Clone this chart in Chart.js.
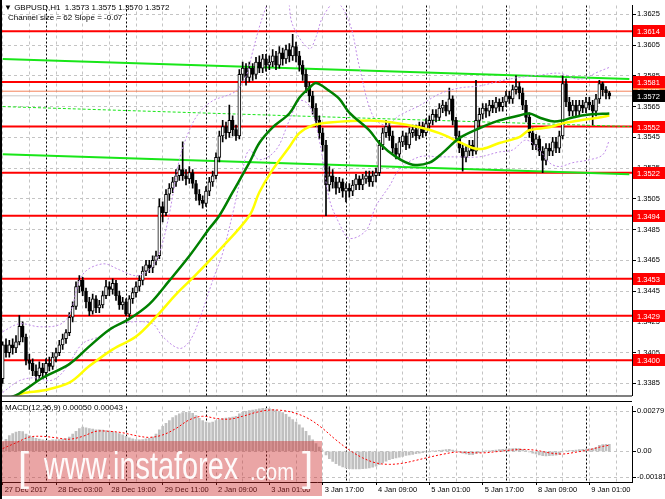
<!DOCTYPE html>
<html>
<head>
<meta charset="utf-8">
<script src="https://cdn.jsdelivr.net/npm/chart.js@4.4.1/dist/chart.umd.min.js"></script>
<style>
  body { margin: 0; width: 665px; height: 499px; overflow: hidden; position: relative; background: #fff; font-family: "Liberation Sans", Arial, sans-serif; }
  canvas { position: absolute; left: 0; }
  #main { top: 0; }
  #macd { top: 401px; }
  .txt { position: absolute; font-size: 8px; color: #000; white-space: pre; line-height: 10px; }
  #wm { position: absolute; left: 2px; top: 441px; width: 320px; height: 55px; background: rgba(205, 40, 40, 0.42); color: rgba(255,255,255,0.95); }
  #wm span { position: absolute; white-space: pre; }
</style>
</head>
<body>
<canvas id="main" width="665" height="401"></canvas>
<canvas id="macd" width="665" height="98"></canvas>
<div class="txt" style="left:4px;top:3px">▼ GBPUSD,H1  1.3573 1.3575 1.3570 1.3572</div>
<div class="txt" style="left:8px;top:13px">Channel size = 62 Slope = -0.07</div>
<div class="txt" style="left:5px;top:403px">MACD(12,26,9) 0.00050 0.00043</div>
<div id="wm">
  <span style="left:16px;top:4px;font-size:40px;">[</span>
  <span style="left:42px;top:4px;font-size:38px;transform:scaleX(0.76);transform-origin:left top;">www.instaforex</span>
  <span style="left:248px;top:17px;font-size:24px;transform:scaleX(0.85);transform-origin:left top;">.com</span>
  <span style="left:300px;top:4px;font-size:40px;">]</span>
</div>
<script>
// hourly bars, index 0 = 27 Dec 2017 11:00
const opens = [
  1.3388,1.3410,1.3405,1.3410,1.3408,1.3412,1.3422,1.3415,1.3400,1.3398,
  1.3393,1.3390,1.3395,1.3392,1.3398,1.3396,1.3402,1.3405,1.3410,1.3414,
  1.3418,1.3428,1.3435,1.3448,1.3452,1.3445,1.3438,1.3432,1.3440,1.3434,
  1.3436,1.3442,1.3448,1.3446,1.3450,1.3442,1.3436,1.3438,1.3430,1.3440,
  1.3444,1.3448,1.3452,1.3458,1.3462,1.3460,1.3465,1.3468,1.3500,1.3496,
  1.3508,1.3512,1.3516,1.3520,1.3524,1.3520,1.3518,1.3522,1.3515,1.3508,
  1.3504,1.3502,1.3510,1.3516,1.3520,1.3532,1.3546,1.3552,1.3548,1.3556,
  1.3550,1.3546,1.3586,1.3590,1.3584,1.3590,1.3586,1.3594,1.3590,1.3596,
  1.3592,1.3594,1.3598,1.3592,1.3600,1.3596,1.3602,1.3598,1.3604,1.3598,
  1.3592,1.3586,1.3578,1.3572,1.3564,1.3556,1.3548,1.3540,1.3514,1.3520,
  1.3516,1.3512,1.3516,1.3510,1.3512,1.3510,1.3514,1.3518,1.3514,1.3518,
  1.3520,1.3516,1.3520,1.3522,1.3540,1.3548,1.3552,1.3546,1.3538,1.3534,
  1.3542,1.3546,1.3540,1.3548,1.3550,1.3546,1.3552,1.3548,1.3554,1.3556,
  1.3560,1.3558,1.3564,1.3566,1.3562,1.3570,1.3556,1.3546,1.3538,1.3532,
  1.3536,1.3540,1.3536,1.3556,1.3560,1.3564,1.3562,1.3566,1.3564,1.3568,
  1.3565,1.3568,1.3572,1.3570,1.3576,1.3578,1.3574,1.3566,1.3558,1.3548,
  1.3540,1.3544,1.3536,1.3530,1.3538,1.3536,1.3542,1.3538,1.3546,1.3580,
  1.3568,1.3562,1.3566,1.3562,1.3566,1.3564,1.3568,1.3566,1.3562,1.3570,
  1.3580,1.3576,1.3574
];
const highs = [
  1.3412,1.3414,1.3413,1.3414,1.3416,1.3429,1.3425,1.3417,1.3404,1.3401,
  1.3397,1.3399,1.3398,1.3401,1.3402,1.3405,1.3408,1.3413,1.3417,1.3420,
  1.3431,1.3438,1.3451,1.3455,1.3454,1.3447,1.3441,1.3443,1.3442,1.3439,
  1.3445,1.3452,1.3451,1.3453,1.3452,1.3445,1.3441,1.3440,1.3442,1.3447,
  1.3451,1.3455,1.3461,1.3465,1.3465,1.3468,1.3471,1.3505,1.3503,1.3511,
  1.3515,1.3519,1.3524,1.3527,1.3542,1.3524,1.3526,1.3524,1.3517,1.3511,
  1.3507,1.3513,1.3519,1.3523,1.3535,1.3549,1.3556,1.3555,1.3566,1.3559,
  1.3553,1.3589,1.3594,1.3593,1.3594,1.3593,1.3597,1.3598,1.3599,1.3599,
  1.3598,1.3602,1.3601,1.3604,1.3603,1.3605,1.3606,1.3612,1.3607,1.3601,
  1.3595,1.3589,1.3581,1.3575,1.3567,1.3559,1.3551,1.3543,1.3526,1.3524,
  1.3519,1.3519,1.3518,1.3515,1.3515,1.3517,1.3521,1.3520,1.3521,1.3523,
  1.3523,1.3523,1.3525,1.3543,1.3551,1.3556,1.3555,1.3549,1.3541,1.3545,
  1.3549,1.3548,1.3551,1.3553,1.3553,1.3555,1.3555,1.3557,1.3559,1.3563,
  1.3563,1.3567,1.3569,1.3568,1.3577,1.3572,1.3558,1.3549,1.3541,1.3539,
  1.3543,1.3543,1.3582,1.3564,1.3567,1.3567,1.3569,1.3569,1.3571,1.3570,
  1.3571,1.3575,1.3575,1.3579,1.3585,1.3581,1.3577,1.3569,1.3561,1.3551,
  1.3547,1.3546,1.3539,1.3541,1.3541,1.3545,1.3545,1.3549,1.3585,1.3583,
  1.3571,1.3569,1.3569,1.3569,1.3569,1.3571,1.3571,1.3569,1.3573,1.3582,
  1.3581,1.3578,1.3575
];
const lows = [
  1.3385,1.3402,1.3402,1.3404,1.3405,1.3410,1.3412,1.3397,1.3394,1.3390,
  1.3386,1.3388,1.3388,1.3389,1.3393,1.3394,1.3399,1.3403,1.3407,1.3411,
  1.3416,1.3425,1.3433,1.3444,1.3442,1.3434,1.3429,1.3430,1.3431,1.3431,
  1.3434,1.3440,1.3442,1.3443,1.3439,1.3433,1.3433,1.3429,1.3428,1.3437,
  1.3441,1.3445,1.3449,1.3455,1.3457,1.3457,1.3462,1.3466,1.3490,1.3494,
  1.3504,1.3509,1.3513,1.3517,1.3517,1.3514,1.3515,1.3512,1.3504,1.3501,
  1.3499,1.3500,1.3507,1.3513,1.3518,1.3529,1.3542,1.3544,1.3545,1.3546,
  1.3543,1.3544,1.3582,1.3579,1.3581,1.3582,1.3583,1.3587,1.3587,1.3588,
  1.3589,1.3591,1.3589,1.3590,1.3592,1.3593,1.3594,1.3595,1.3594,1.3588,
  1.3582,1.3574,1.3568,1.3560,1.3552,1.3544,1.3536,1.3494,1.3510,1.3512,
  1.3508,1.3509,1.3506,1.3503,1.3506,1.3507,1.3511,1.3511,1.3511,1.3515,
  1.3513,1.3513,1.3516,1.3520,1.3537,1.3545,1.3543,1.3535,1.3531,1.3532,
  1.3539,1.3537,1.3538,1.3545,1.3543,1.3544,1.3545,1.3546,1.3551,1.3553,
  1.3555,1.3556,1.3561,1.3559,1.3560,1.3553,1.3542,1.3535,1.3523,1.3529,
  1.3533,1.3533,1.3534,1.3552,1.3557,1.3558,1.3559,1.3561,1.3561,1.3562,
  1.3562,1.3565,1.3567,1.3567,1.3573,1.3570,1.3563,1.3555,1.3545,1.3537,
  1.3537,1.3533,1.3522,1.3527,1.3533,1.3533,1.3535,1.3535,1.3544,1.3565,
  1.3559,1.3559,1.3559,1.3559,1.3561,1.3561,1.3563,1.3553,1.3559,1.3567,
  1.3572,1.3570,1.3570
];
const closes = [
  1.3410,1.3405,1.3410,1.3408,1.3412,1.3422,1.3415,1.3400,1.3398,1.3393,
  1.3390,1.3395,1.3392,1.3398,1.3396,1.3402,1.3405,1.3410,1.3414,1.3418,
  1.3428,1.3435,1.3448,1.3452,1.3445,1.3438,1.3432,1.3440,1.3434,1.3436,
  1.3442,1.3448,1.3446,1.3450,1.3442,1.3436,1.3438,1.3430,1.3440,1.3444,
  1.3448,1.3452,1.3458,1.3462,1.3460,1.3465,1.3468,1.3500,1.3496,1.3508,
  1.3512,1.3516,1.3520,1.3524,1.3520,1.3518,1.3522,1.3515,1.3508,1.3504,
  1.3502,1.3510,1.3516,1.3520,1.3532,1.3546,1.3552,1.3548,1.3556,1.3550,
  1.3546,1.3586,1.3590,1.3584,1.3590,1.3586,1.3594,1.3590,1.3596,1.3592,
  1.3594,1.3598,1.3592,1.3600,1.3596,1.3602,1.3598,1.3604,1.3598,1.3592,
  1.3586,1.3578,1.3572,1.3564,1.3556,1.3548,1.3540,1.3514,1.3520,1.3516,
  1.3512,1.3516,1.3510,1.3512,1.3510,1.3514,1.3518,1.3514,1.3518,1.3520,
  1.3516,1.3520,1.3522,1.3540,1.3548,1.3552,1.3546,1.3538,1.3534,1.3542,
  1.3546,1.3540,1.3548,1.3550,1.3546,1.3552,1.3548,1.3554,1.3556,1.3560,
  1.3558,1.3564,1.3566,1.3562,1.3570,1.3556,1.3546,1.3538,1.3532,1.3536,
  1.3540,1.3536,1.3556,1.3560,1.3564,1.3562,1.3566,1.3564,1.3568,1.3565,
  1.3568,1.3572,1.3570,1.3576,1.3578,1.3574,1.3566,1.3558,1.3548,1.3540,
  1.3544,1.3536,1.3530,1.3538,1.3536,1.3542,1.3538,1.3546,1.3580,1.3568,
  1.3562,1.3566,1.3562,1.3566,1.3564,1.3568,1.3566,1.3562,1.3570,1.3580,
  1.3576,1.3574,1.3572
];

// moving averages and bands: [bar, price]
const greenMA = [[0,1.3374],[5,1.33784],[12,1.33886],[20,1.33975],[26,1.3409],[32,1.34199],[38,1.34269],[44,1.34365],[50,1.34518],[56,1.34678],[62,1.34857],[65,1.3494],[69,1.35093],[74,1.35285],[77,1.35413],[81,1.35515],[86,1.35605],[89,1.35707],[92,1.35771],[94,1.35803],[98,1.35752],[101,1.357],[104,1.35611],[110,1.35496],[113,1.35413],[118,1.35323],[123,1.35272],[128,1.35285],[132,1.35349],[137,1.35445],[143,1.35509],[149,1.3556],[155,1.35592],[158,1.35605],[161,1.35579],[165,1.35554],[168,1.3556],[171,1.35579],[176,1.35598],[182,1.35605]];
const yellowMA = [[0,1.3372],[6,1.33785],[12,1.33803],[20,1.33854],[26,1.33962],[33,1.34071],[40,1.34154],[46,1.34282],[52,1.34429],[58,1.34557],[65,1.34716],[74,1.3494],[77,1.35093],[81,1.3524],[86,1.35387],[89,1.35477],[93,1.35528],[98,1.35547],[110,1.3556],[117,1.35547],[125,1.35515],[131,1.35477],[137,1.35419],[141,1.35381],[144,1.35375],[149,1.35413],[155,1.35451],[158,1.35496],[164,1.35515],[168,1.35541],[173,1.3556],[179,1.35579],[182,1.35592]];
const bandUpper = [[0,1.34186],[5,1.34237],[11,1.34218],[17,1.34231],[20,1.34295],[24,1.34557],[30,1.34627],[35,1.34589],[40,1.3455],[44,1.34589],[47,1.34697],[50,1.34953],[53,1.35304],[56,1.35496],[59,1.35611],[63,1.35688],[67,1.3572],[70,1.35752],[73,1.35847],[75,1.36007],[77,1.36167],[79,1.36295],[81,1.3639],[85,1.3639],[87,1.3618],[92,1.36026],[94,1.36103],[96,1.36231],[100,1.3633],[104,1.36199],[107,1.35911],[111,1.35592],[115,1.35528],[119,1.35592],[125,1.35656],[131,1.35732],[137,1.35771],[143,1.35784],[149,1.35815],[155,1.3584],[161,1.35854],[167,1.35867],[173,1.35828],[179,1.35879],[182,1.35905]];
const bandLower = [[0,1.3379],[5,1.33867],[10,1.33886],[14,1.33867],[17,1.33899],[20,1.33982],[24,1.34109],[29,1.34154],[35,1.34231],[39,1.3425],[45,1.34237],[48,1.34154],[53,1.34077],[56,1.34122],[59,1.34263],[63,1.34518],[66,1.34697],[69,1.34953],[72,1.3524],[74,1.35368],[77,1.35304],[82,1.35368],[86,1.3556],[89,1.35688],[92,1.35656],[95,1.35432],[98,1.35049],[101,1.34889],[104,1.34793],[109,1.34844],[112,1.35004],[116,1.35132],[119,1.3524],[125,1.35323],[131,1.35323],[137,1.35323],[143,1.35323],[149,1.35355],[153,1.35368],[157,1.35432],[161,1.35368],[164,1.35285],[167,1.3526],[171,1.35285],[176,1.35304],[180,1.35336],[182,1.35432]];

// regression channel: [start bar, price], [end bar, price]
const channelUpper = [[0,1.3596],[188,1.3583]];
const channelMiddle = [[0,1.3565],[188,1.3552]];
const channelLower = [[0,1.3534],[188,1.3521]];

const redLevels = [1.3614, 1.3581, 1.3552, 1.3522, 1.3494, 1.3453, 1.3429, 1.3400];
const orangeLevel = 1.3575;
const bidLevel = 1.3572;

const priceTicks = [1.3625, 1.3605, 1.3585, 1.3565, 1.3545, 1.3525, 1.3505, 1.3485, 1.3465, 1.3445, 1.3425, 1.3405, 1.3385];
const timeLabelBars = [0, 16, 32, 48, 64, 80, 96, 112, 128, 144, 160, 176];
const timeLabels = ["27 Dec 2017", "28 Dec 03:00", "28 Dec 19:00", "29 Dec 11:00", "2 Jan 09:00", "3 Jan 01:00", "3 Jan 17:00", "4 Jan 09:00", "5 Jan 01:00", "5 Jan 17:00", "8 Jan 09:00", "9 Jan 01:00"];
const daySeparatorBars = [13, 37, 61, 79, 103, 127, 151, 175];

const macdMain = [
  0.00066,0.00085,0.00110,0.00125,0.00135,0.00140,0.00138,0.00120,0.00110,0.00100,
  0.00092,0.00086,0.00080,0.00078,0.00078,0.00080,0.00080,0.00082,0.00086,0.00090,
  0.00100,0.00120,0.00140,0.00160,0.00170,0.00165,0.00160,0.00155,0.00150,0.00150,
  0.00148,0.00146,0.00142,0.00138,0.00132,0.00124,0.00115,0.00105,0.00095,0.00088,
  0.00082,0.00080,0.00082,0.00088,0.00092,0.00100,0.00120,0.00150,0.00175,0.00195,
  0.00215,0.00235,0.00250,0.00262,0.00270,0.00272,0.00270,0.00266,0.00250,0.00230,
  0.00215,0.00205,0.00200,0.00205,0.00215,0.00222,0.00228,0.00232,0.00236,0.00240,
  0.00245,0.00262,0.00272,0.00280,0.00284,0.00288,0.00292,0.00296,0.00300,0.00300,
  0.00298,0.00294,0.00288,0.00280,0.00270,0.00258,0.00240,0.00222,0.00205,0.00185,
  0.00165,0.00140,0.00110,0.00080,0.00055,0.00030,0.00005,-0.00025,-0.00050,-0.00070,
  -0.00085,-0.00098,-0.00108,-0.00115,-0.00120,-0.00122,-0.00122,-0.00122,-0.00120,-0.00118,
  -0.00115,-0.00110,-0.00102,-0.00092,-0.00080,-0.00068,-0.00058,-0.00050,-0.00045,-0.00040,
  -0.00034,-0.00028,-0.00024,-0.00020,-0.00016,-0.00012,-0.00008,-0.00004,-0.00002,0.00002,
  0.00005,0.00008,0.00010,0.00012,0.00014,0.00010,0.00004,-0.00004,-0.00012,-0.00018,
  -0.00022,-0.00022,-0.00014,-0.00008,-0.00002,0.00002,0.00005,0.00008,0.00010,0.00012,
  0.00014,0.00016,0.00018,0.00020,0.00022,0.00020,0.00014,0.00006,-0.00004,-0.00012,
  -0.00018,-0.00024,-0.00030,-0.00032,-0.00030,-0.00028,-0.00026,-0.00020,-0.00004,0.00004,
  0.00006,0.00008,0.00010,0.00012,0.00014,0.00016,0.00018,0.00020,0.00028,0.00042,
  0.00048,0.00050,0.00050
];
const macdSignal = [[0,0.0002],[4,0.0006],[8,0.0010],[12,0.00105],[16,0.00095],[20,0.00085],[24,0.00105],[28,0.0014],[32,0.0014],[36,0.0013],[40,0.0011],[44,0.00098],[48,0.00115],[52,0.0016],[56,0.0022],[60,0.00245],[64,0.0023],[68,0.00225],[72,0.00245],[76,0.00272],[80,0.00288],[84,0.00285],[88,0.00265],[92,0.00225],[96,0.0016],[100,0.0008],[104,0.0001],[108,-0.00045],[112,-0.0008],[116,-0.0009],[120,-0.00082],[124,-0.00062],[128,-0.0004],[132,-0.0002],[136,-0.00005],[140,-0.00008],[144,-0.0001],[148,-0.00002],[152,0.00008],[156,0.00014],[160,0.00008],[164,-0.0001],[168,-0.00018],[172,-0.00005],[176,0.00012],[180,0.00035],[182,0.00043]];
const macdTicks = [0.00279, 0, -0.00181];

const FONT = '"Liberation Sans", Arial, sans-serif';
const X_MIN = -0.2, X_MAX = 188.8;
const gridBars = [];
for (let b = 0; b <= 184; b += 8) gridBars.push(b);

const pts = arr => arr.map(p => ({ x: p[0], y: p[1] }));
const flat = (v, color, width, order) => ({
  type: 'line', data: [{ x: X_MIN, y: v }, { x: X_MAX, y: v }],
  borderColor: color, borderWidth: width, pointRadius: 0, order: order
});
const curve = (arr, color, width, dash, order) => ({
  type: 'line', data: pts(arr), borderColor: color, borderWidth: width,
  borderDash: dash, pointRadius: 0, tension: 0.35, order: order
});

const xScale = (showLabels) => ({
  type: 'linear', min: X_MIN, max: X_MAX, offset: false,
  afterBuildTicks: s => { s.ticks = gridBars.map(v => ({ value: v })); },
  afterFit: s => { s.height = showLabels ? 17 : 0; s.paddingLeft = 0; s.paddingRight = 0; },
  ticks: {
    display: showLabels, autoSkip: false, maxRotation: 0, align: 'start', labelOffset: 2, padding: 0,
    font: { family: FONT, size: 7.5 }, color: '#000',
    callback: v => { const k = timeLabelBars.indexOf(v); return k >= 0 ? timeLabels[k] : ''; }
  },
  grid: {
    color: '#c4c4c4', drawTicks: showLabels, tickLength: 3, offset: false,
    tickColor: c => (c.tick && timeLabelBars.indexOf(c.tick.value) >= 0) ? '#000' : 'rgba(0,0,0,0)'
  },
  border: { display: showLabels, color: '#000', dash: [3, 3] }
});

// period separators, frame and price tags
const decor = {
  id: 'decor',
  beforeDatasetsDraw(chart) {
    const { ctx, chartArea: a, scales: { x } } = chart;
    ctx.save();
    ctx.strokeStyle = '#000';
    ctx.lineWidth = 1;
    ctx.setLineDash([2, 2]);
    daySeparatorBars.forEach(b => {
      const px = Math.round(x.getPixelForValue(b)) + 0.5;
      ctx.beginPath(); ctx.moveTo(px, a.top); ctx.lineTo(px, a.bottom); ctx.stroke();
    });
    ctx.restore();
  },
  afterDraw(chart) {
    const { ctx, chartArea: a } = chart;
    ctx.save();
    ctx.fillStyle = '#000';
    ctx.fillRect(0, 0, 2, chart.height);
    if (chart.canvas.id === 'main') {
      ctx.fillRect(0, a.bottom, a.right, 1);
      const y = chart.scales.y;
      ctx.font = '7.5px ' + FONT;
      ctx.textBaseline = 'middle';
      const tag = (v, bg) => {
        const py = Math.round(y.getPixelForValue(v));
        ctx.fillStyle = bg;
        ctx.fillRect(633, py - 6, 32, 12);
        ctx.fillStyle = '#fff';
        ctx.fillText(v.toFixed(4), 637, py + 0.5);
      };
      tag(orangeLevel, '#ff7f3f');
      redLevels.forEach(v => tag(v, '#ff0000'));
      tag(bidLevel, '#000');
    } else {
      ctx.fillRect(0, 0, a.right, 1);
    }
    ctx.restore();
  }
};

Chart.defaults.font.family = FONT;

new Chart(document.getElementById('main'), {
  type: 'bar',
  data: {
    datasets: [
      ...redLevels.map(v => flat(v, '#ff0000', 2, 20)),
      flat(orangeLevel, '#f4845c', 1, 19),
      flat(bidLevel, '#c8c8c8', 1, 19),
      curve(channelUpper, '#19e619', 2, [], 15),
      curve(channelMiddle, '#19e619', 1, [3, 2], 15),
      curve(channelLower, '#19e619', 2, [], 15),
      {
        type: 'bar', data: closes.map((c, i) => ({ x: i, y: [lows[i], highs[i]] })),
        backgroundColor: '#000', barThickness: 1, grouped: false, order: 10
      },
      {
        type: 'bar', data: closes.map((c, i) => ({ x: i, y: [opens[i], c] })),
        backgroundColor: closes.map((c, i) => c >= opens[i] ? '#ffffff' : '#000000'),
        borderColor: '#000', borderWidth: 1, borderSkipped: false, minBarLength: 1,
        barThickness: 3, grouped: false, order: 9
      },
      curve(bandUpper, '#c08ce8', 1, [2, 2], 4),
      curve(bandLower, '#c08ce8', 1, [2, 2], 4),
      curve(yellowMA, '#ffff00', 2.5, [], 3),
      curve(greenMA, '#008000', 2.5, [], 2)
    ]
  },
  options: {
    responsive: false, animation: false, events: [],
    layout: { padding: { left: 2, top: 3, right: 0, bottom: 1 } },
    plugins: { legend: { display: false }, tooltip: { enabled: false } },
    scales: {
      x: xScale(false),
      y: {
        position: 'right', min: 1.337708, max: 1.363075,
        afterBuildTicks: s => { s.ticks = priceTicks.map(v => ({ value: v })); },
        afterFit: s => { s.width = 33; },
        ticks: { font: { family: FONT, size: 7.5 }, color: '#000', padding: 1, callback: v => v.toFixed(4) },
        grid: { color: '#c4c4c4', tickColor: '#000', tickLength: 4 },
        border: { display: true, color: '#000', dash: [3, 3] }
      }
    }
  },
  plugins: [decor]
});

new Chart(document.getElementById('macd'), {
  type: 'bar',
  data: {
    datasets: [
      {
        type: 'bar', data: macdMain.map((v, i) => ({ x: i, y: v })),
        backgroundColor: '#c0c0c0', barThickness: 2, grouped: false, order: 5
      },
      curve(macdSignal, '#ff0000', 1, [2, 2], 1)
    ]
  },
  options: {
    responsive: false, animation: false, events: [],
    layout: { padding: { left: 2, top: 2, right: 0, bottom: 0 } },
    plugins: { legend: { display: false }, tooltip: { enabled: false } },
    scales: {
      x: xScale(true),
      y: {
        position: 'right', min: -0.00213, max: 0.00313,
        afterBuildTicks: s => { s.ticks = macdTicks.map(v => ({ value: v })); },
        afterFit: s => { s.width = 33; },
        ticks: { font: { family: FONT, size: 7.5 }, color: '#000', padding: 1, callback: v => v === 0 ? '0.00' : v.toFixed(5) },
        grid: { color: '#c4c4c4', tickColor: '#000', tickLength: 4 },
        border: { display: true, color: '#000', dash: [3, 3] }
      }
    }
  },
  plugins: [decor]
});
</script>
</body>
</html>
